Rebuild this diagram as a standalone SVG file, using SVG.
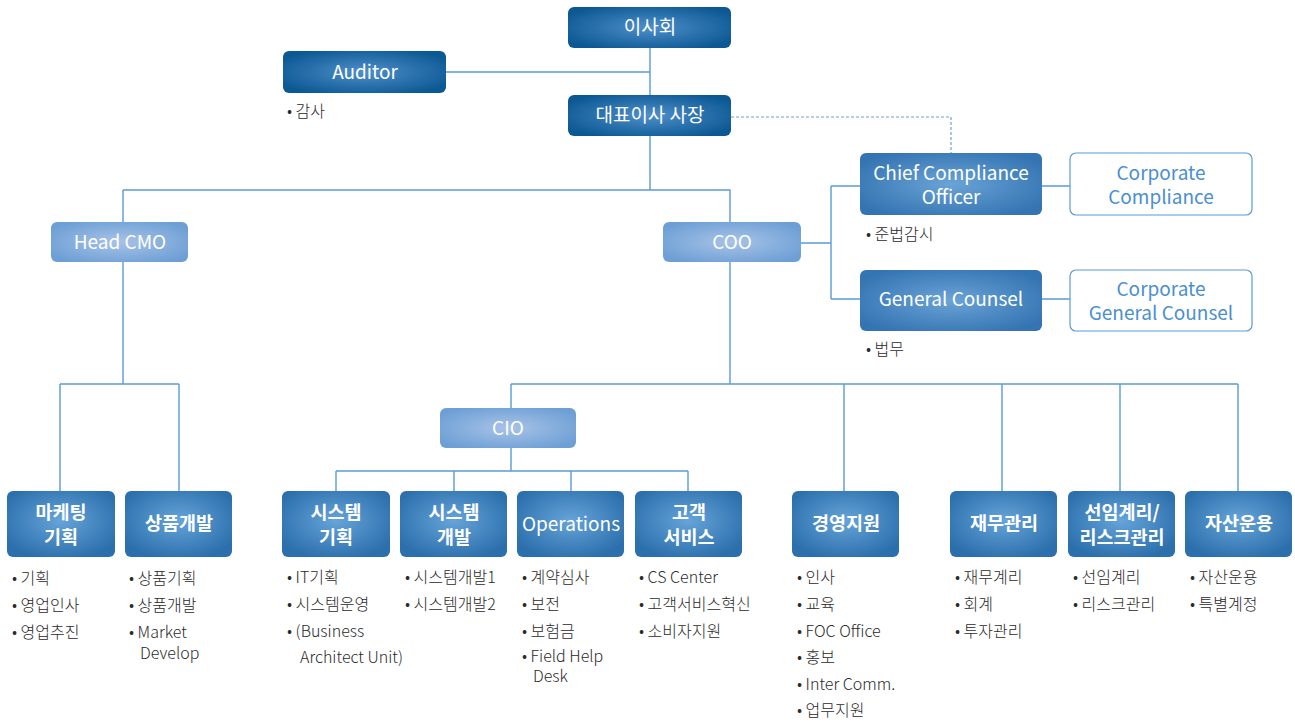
<svg xmlns="http://www.w3.org/2000/svg" width="1295" height="722" viewBox="0 0 1295 722">
<defs>
<radialGradient id="gTop" cx="0.5" cy="0.5" r="0.6"><stop offset="0" stop-color="#4f8fca"/><stop offset="1" stop-color="#0b5893"/></radialGradient>
<radialGradient id="gMid" cx="0.5" cy="0.5" r="0.6"><stop offset="0" stop-color="#6aa3d6"/><stop offset="1" stop-color="#3474b2"/></radialGradient>
<radialGradient id="gBot" cx="0.5" cy="0.45" r="0.6"><stop offset="0" stop-color="#66a4d9"/><stop offset="1" stop-color="#2b6fac"/></radialGradient>
<radialGradient id="gLight" cx="0.5" cy="0.5" r="0.6"><stop offset="0" stop-color="#a8c3e7"/><stop offset="1" stop-color="#6d9fd5"/></radialGradient>
</defs>
<style>
.top{fill:url(#gTop)}
.mid{fill:url(#gMid)}
.bot{fill:url(#gBot)}
.lt{fill:url(#gLight)}
.wb{fill:#fff;stroke:#5b9bd5;stroke-width:1.2}
.lab{font-family:"Noto Sans CJK KR","Noto Sans",sans-serif;fill:#fff;text-anchor:middle}
.b18{font-size:19px;font-weight:400}
.n19{font-size:19px;font-weight:400}
.k19{font-size:18.5px;font-weight:700}
.blue{fill:#4a8fd0}
.li{font-family:"Noto Sans CJK KR","Noto Sans",sans-serif;font-size:16px;fill:#2a2a2a;font-weight:300}
.ln{fill:none;stroke:#5b9bd5;stroke-width:1.4}
.dash{fill:none;stroke:#6fa0d0;stroke-width:1.2;stroke-dasharray:3 2}
</style>
<g id="connectors">
<path class="ln" d="M650 48V190M446 72H650M123 190H730V222M123 190V222"/>
<path class="dash" d="M731 117H951V153"/>
<path class="ln" d="M801 243H831M831 186V299M831 186H860M831 299H860M1042 186H1070M1042 299H1070"/>
<path class="ln" d="M123 262V384M60 384H179M60 384V491M179 384V491"/>
<path class="ln" d="M730 262V384M511 384H1238M511 384V408M844 384V491M1002 384V491M1120 384V491M1238 384V491"/>
<path class="ln" d="M511 448V471M336 471H688M336 471V491M454 471V491M571 471V491M688 471V491"/>
</g>
<g id="n-board"><rect class="top" x="568" y="7" width="163" height="41" rx="6"/><text class="lab b18" x="650" y="34">이사회</text></g>
<g id="n-auditor"><rect class="top" x="283" y="51" width="163" height="42" rx="6"/><text class="lab b18" x="365" y="79">Auditor</text>
<text class="li" x="287" y="117">• 감사</text></g>
<g id="n-ceo"><rect class="top" x="568" y="95" width="163" height="41" rx="6"/><text class="lab b18" x="650" y="122">대표이사 사장</text></g>
<g id="n-cco"><rect class="mid" x="860" y="153" width="182" height="62" rx="6"/><text class="lab n19" x="951" y="180">Chief Compliance</text><text class="lab n19" x="951" y="204">Officer</text>
<text class="li" x="866" y="240">• 준법감시</text></g>
<g id="n-cc"><rect class="wb" x="1070" y="153" width="182" height="62" rx="6"/><text class="lab n19 blue" x="1161" y="180">Corporate</text><text class="lab n19 blue" x="1161" y="204">Compliance</text></g>
<g id="n-gc"><rect class="mid" x="860" y="270" width="182" height="61" rx="6"/><text class="lab n19" x="951" y="306">General Counsel</text>
<text class="li" x="866" y="355">• 법무</text></g>
<g id="n-cgc"><rect class="wb" x="1070" y="270" width="182" height="61" rx="6"/><text class="lab n19 blue" x="1161" y="296">Corporate</text><text class="lab n19 blue" x="1161" y="320">General Counsel</text></g>
<g id="n-cmo"><rect class="lt" x="51" y="222" width="137" height="40" rx="6"/><text class="lab n19" x="120" y="249">Head CMO</text></g>
<g id="n-coo"><rect class="lt" x="663" y="222" width="138" height="40" rx="6"/><text class="lab n19" x="732" y="249">COO</text></g>
<g id="n-cio"><rect class="lt" x="440" y="408" width="136" height="40" rx="6"/><text class="lab n19" x="508" y="435">CIO</text></g>

<g id="n-mkt"><rect class="bot" x="7" y="491" width="108" height="66" rx="6"/><text class="lab k19" x="61" y="519">마케팅</text><text class="lab k19" x="61" y="544">기획</text>
<text class="li" x="12" y="584">• 기획</text><text class="li" x="12" y="611">• 영업인사</text><text class="li" x="12" y="638">• 영업추진</text></g>
<g id="n-prod"><rect class="bot" x="125" y="491" width="107" height="66" rx="6"/><text class="lab k19" x="179" y="530">상품개발</text>
<text class="li" x="129" y="584">• 상품기획</text><text class="li" x="129" y="611">• 상품개발</text><text class="li" x="129" y="638">• Market</text><text class="li" x="140" y="659">Develop</text></g>
<g id="n-sysp"><rect class="bot" x="282" y="491" width="108" height="66" rx="6"/><text class="lab k19" x="336" y="519">시스템</text><text class="lab k19" x="336" y="544">기획</text>
<text class="li" x="287" y="583">• IT기획</text><text class="li" x="287" y="610">• 시스템운영</text><text class="li" x="287" y="637">• (Business</text><text class="li" x="300" y="663">Architect Unit)</text></g>
<g id="n-sysd"><rect class="bot" x="400" y="491" width="107" height="66" rx="6"/><text class="lab k19" x="454" y="519">시스템</text><text class="lab k19" x="454" y="544">개발</text>
<text class="li" x="405" y="583">• 시스템개발1</text><text class="li" x="405" y="610">• 시스템개발2</text></g>
<g id="n-ops"><rect class="bot" x="517" y="491" width="107" height="66" rx="6"/><text class="lab n19" x="571" y="531">Operations</text>
<text class="li" x="522" y="583">• 계약심사</text><text class="li" x="522" y="610">• 보전</text><text class="li" x="522" y="637">• 보험금</text><text class="li" x="522" y="662">• Field Help</text><text class="li" x="533" y="682">Desk</text></g>
<g id="n-cs"><rect class="bot" x="635" y="491" width="107" height="66" rx="6"/><text class="lab k19" x="689" y="519">고객</text><text class="lab k19" x="689" y="544">서비스</text>
<text class="li" x="639" y="583">• CS Center</text><text class="li" x="639" y="610">• 고객서비스혁신</text><text class="li" x="639" y="637">• 소비자지원</text></g>
<g id="n-mgmt"><rect class="bot" x="792" y="491" width="107" height="66" rx="6"/><text class="lab k19" x="846" y="530">경영지원</text>
<text class="li" x="797" y="583">• 인사</text><text class="li" x="797" y="610">• 교육</text><text class="li" x="797" y="637">• FOC Office</text><text class="li" x="797" y="663">• 홍보</text><text class="li" x="797" y="690">• Inter Comm.</text><text class="li" x="797" y="716">• 업무지원</text></g>
<g id="n-fin"><rect class="bot" x="950" y="491" width="107" height="66" rx="6"/><text class="lab k19" x="1004" y="530">재무관리</text>
<text class="li" x="955" y="583">• 재무계리</text><text class="li" x="955" y="610">• 회계</text><text class="li" x="955" y="637">• 투자관리</text></g>
<g id="n-act"><rect class="bot" x="1068" y="491" width="107" height="66" rx="6"/><text class="lab k19" x="1122" y="519">선임계리/</text><text class="lab k19" x="1122" y="544">리스크관리</text>
<text class="li" x="1073" y="583">• 선임계리</text><text class="li" x="1073" y="610">• 리스크관리</text></g>
<g id="n-asset"><rect class="bot" x="1185" y="491" width="107" height="66" rx="6"/><text class="lab k19" x="1239" y="530">자산운용</text>
<text class="li" x="1190" y="583">• 자산운용</text><text class="li" x="1190" y="610">• 특별계정</text></g>
</svg>
